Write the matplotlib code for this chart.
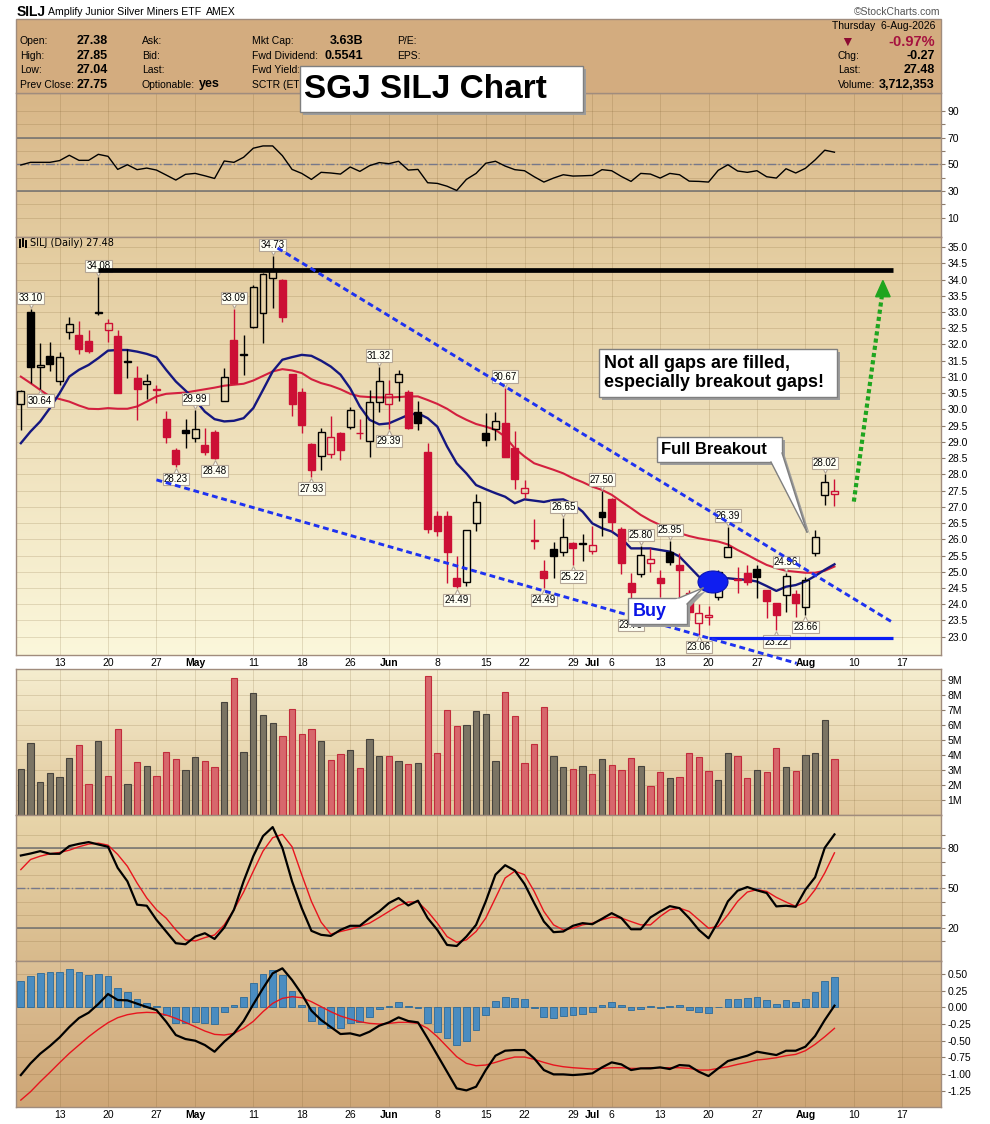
import numpy as np
import matplotlib
matplotlib.use("Agg")
import matplotlib.pyplot as plt
from matplotlib.colors import to_rgb
from matplotlib.patches import Rectangle, Ellipse, Polygon
from matplotlib.transforms import offset_copy, Bbox, TransformedBbox

# SILJ daily bars, 7-Apr-2026 .. 6-Aug-2026 (one value per trading day)
opens = [30.17, 32.99, 31.30, 31.63, 30.89, 32.38, 32.29, 32.10, 32.97, 32.45,
         32.27, 31.46, 30.96, 30.79, 30.60, 29.70, 28.75, 29.36, 29.11, 28.91,
         29.29, 30.27, 32.14, 31.69, 32.55, 32.96, 34.04, 33.99, 31.09, 30.53,
         28.94, 28.58, 28.62, 29.28, 29.45, 29.26, 29.02, 30.24, 30.16, 30.84,
         30.53, 29.93, 28.68, 26.73, 26.72, 24.80, 24.68, 26.49, 29.27, 29.40,
         29.57, 28.80, 27.42, 25.95, 25.03, 25.70, 25.60, 25.90, 25.87, 25.65,
         26.85, 27.24, 26.32, 24.64, 24.93, 25.26, 24.80, 25.62, 25.21, 24.34,
         23.41, 23.62, 24.23, 25.45, 24.76, 24.95, 25.08, 24.44, 24.03, 24.29,
         24.31, 23.90, 25.57, 27.35, 27.38]
highs = [30.60, 33.10, 32.04, 32.07, 31.76, 32.84, 32.73, 32.45, 34.08, 32.78,
         32.45, 31.86, 31.34, 31.08, 30.75, 29.96, 28.80, 29.70, 29.99, 29.42,
         29.37, 31.29, 33.09, 32.30, 33.84, 34.20, 34.73, 34.01, 31.10, 30.66,
         28.96, 29.42, 29.80, 29.30, 30.06, 29.70, 30.59, 31.32, 30.91, 31.22,
         30.59, 30.26, 28.95, 26.87, 26.87, 25.47, 26.30, 27.39, 29.90, 29.93,
         30.67, 29.32, 27.83, 26.62, 25.36, 25.92, 26.65, 25.92, 26.16, 26.41,
         27.50, 27.26, 26.39, 24.95, 25.80, 25.72, 25.06, 25.95, 25.57, 24.44,
         24.01, 23.93, 25.05, 26.39, 25.14, 25.21, 25.21, 24.45, 24.05, 24.96,
         24.44, 24.85, 26.29, 28.02, 27.85]
lows = [29.37, 30.81, 30.64, 31.17, 30.74, 32.16, 31.70, 31.73, 32.91, 32.07,
        30.50, 30.98, 29.66, 30.32, 30.19, 28.96, 28.23, 28.80, 28.99, 28.60,
        28.48, 30.27, 30.79, 31.07, 32.52, 32.06, 33.12, 32.70, 29.81, 29.26,
        27.93, 28.12, 28.49, 28.43, 29.40, 29.09, 28.54, 29.92, 29.39, 30.26,
        29.39, 29.37, 26.18, 26.11, 24.64, 24.49, 24.55, 26.27, 28.86, 29.06,
        28.53, 27.55, 27.26, 25.70, 24.49, 24.82, 25.47, 25.22, 25.34, 25.54,
        26.11, 26.26, 24.92, 23.73, 24.85, 24.98, 24.23, 25.21, 24.23, 23.51,
        23.06, 23.36, 24.13, 25.45, 24.34, 24.59, 24.18, 23.57, 23.22, 23.77,
        23.62, 23.66, 25.50, 27.05, 27.04]
closes = [30.56, 31.32, 31.37, 31.40, 31.61, 32.63, 31.86, 31.81, 32.99, 32.65,
          30.50, 31.48, 30.62, 30.86, 30.61, 29.14, 28.31, 29.27, 29.39, 28.70,
          28.50, 30.99, 30.81, 31.70, 33.77, 34.17, 34.28, 32.84, 30.16, 29.53,
          28.12, 29.30, 29.14, 28.76, 29.99, 29.27, 30.24, 30.86, 30.47, 31.08,
          29.42, 29.58, 26.31, 26.26, 25.62, 24.55, 26.29, 27.14, 29.06, 29.65,
          28.53, 27.86, 27.57, 25.96, 24.80, 25.50, 26.06, 25.72, 25.88, 25.83,
          26.68, 26.54, 25.26, 24.39, 25.52, 25.38, 24.64, 25.29, 25.06, 23.75,
          23.72, 23.67, 25.00, 25.77, 24.77, 24.67, 24.85, 24.11, 23.67, 24.88,
          24.03, 24.75, 26.06, 27.75, 27.48]
volume_m = [3.06, 4.79, 2.19, 2.79, 2.53, 3.79, 4.65, 2.06, 4.92, 2.59,
            5.72, 2.06, 3.52, 3.26, 2.59, 4.19, 3.72, 2.99, 3.86, 3.59,
            3.19, 7.51, 9.11, 4.19, 8.11, 6.65, 6.12, 5.25, 7.05, 5.38,
            5.72, 4.92, 3.66, 4.06, 4.32, 3.12, 5.05, 3.92, 3.92, 3.59,
            3.39, 3.45, 9.24, 4.12, 6.98, 5.92, 5.98, 6.91, 6.71, 3.59,
            8.18, 6.58, 3.45, 4.72, 7.18, 3.92, 3.19, 3.06, 3.26, 2.73,
            3.72, 3.32, 2.99, 3.79, 3.26, 1.93, 2.86, 2.46, 2.53, 4.12,
            3.86, 2.93, 2.33, 4.12, 3.92, 2.46, 2.99, 2.86, 4.45, 3.19,
            2.93, 3.99, 4.12, 6.32, 3.71]
ma_fast = [28.96, 29.32, 29.63, 30.04, 30.50, 31.01, 31.22, 31.37, 31.58, 31.81,
           31.83, 31.83, 31.78, 31.71, 31.61, 31.22, 30.86, 30.58, 30.29, 29.93,
           29.70, 29.63, 29.65, 29.73, 30.04, 30.60, 31.17, 31.53, 31.61, 31.68,
           31.65, 31.50, 31.32, 31.07, 30.65, 30.09, 29.68, 29.54, 29.57, 29.70,
           29.83, 29.88, 29.73, 29.47, 28.86, 28.34, 28.03, 27.67, 27.54, 27.42,
           27.31, 27.11, 27.23, 27.19, 27.15, 27.21, 27.23, 27.09, 26.85, 26.49,
           26.34, 26.24, 26.03, 25.72, 25.72, 25.72, 25.67, 25.62, 25.47, 25.16,
           24.85, 24.73, 24.75, 24.80, 24.77, 24.75, 24.70, 24.56, 24.41, 24.54,
           24.59, 24.70, 24.87, 25.06, 25.23]
ma_slow = [31.01, 30.81, 30.60, 30.40, 30.32, 30.24, 30.12, 30.02, 30.01, 30.04,
           30.02, 30.02, 30.09, 30.24, 30.40, 30.48, 30.50, 30.52, 30.57, 30.62,
           30.67, 30.73, 30.76, 30.79, 30.89, 31.03, 31.17, 31.24, 31.20, 31.12,
           30.93, 30.81, 30.73, 30.62, 30.48, 30.40, 30.38, 30.37, 30.37, 30.38,
           30.40, 30.40, 30.29, 30.17, 30.02, 29.83, 29.68, 29.55, 29.47, 29.37,
           29.16, 28.80, 28.55, 28.34, 28.24, 28.14, 28.03, 27.88, 27.76, 27.62,
           27.52, 27.37, 27.16, 26.96, 26.75, 26.58, 26.44, 26.29, 26.19, 26.10,
           26.03, 25.98, 25.93, 25.84, 25.67, 25.52, 25.36, 25.21, 25.11, 25.03,
           25.00, 24.97, 24.97, 25.03, 25.16]
rsi = [49.5, 51.5, 51.5, 51.5, 52.8, 56.8, 53.0, 53.0, 57.5, 56.0,
       46.2, 49.7, 46.0, 47.2, 45.7, 42.0, 38.2, 42.5, 43.2, 41.4,
       39.4, 52.5, 51.5, 55.3, 62.1, 63.8, 63.8, 56.5, 46.2, 43.2,
       38.7, 44.0, 43.5, 42.7, 48.0, 44.7, 49.0, 51.3, 50.5, 52.3,
       45.7, 46.2, 36.2, 35.7, 33.6, 30.4, 38.7, 43.2, 50.8, 52.3,
       48.7, 46.0, 45.2, 40.7, 36.7, 39.7, 42.2, 41.2, 41.4, 41.7,
       46.0, 45.2, 40.9, 37.2, 43.2, 42.7, 39.7, 43.2, 42.2, 37.4,
       37.2, 36.7, 45.5, 49.7, 45.0, 44.0, 45.2, 40.7, 39.7, 46.7,
       43.5, 47.0, 53.3, 60.6, 59.1]
stoch_k = [74.7, 76.2, 78.0, 76.0, 76.0, 81.8, 83.5, 84.8, 83.0, 81.3,
           65.4, 55.3, 37.7, 36.9, 26.3, 17.5, 8.7, 7.9, 13.7, 16.2,
           11.9, 20.5, 33.9, 55.3, 74.2, 89.3, 96.1, 80.5, 55.3, 35.1,
           18.0, 15.0, 14.2, 18.7, 21.8, 21.8, 27.6, 32.6, 38.9, 42.7,
           37.1, 40.7, 27.6, 18.7, 7.4, 6.6, 13.7, 22.5, 40.2, 60.3,
           67.4, 63.4, 53.3, 38.9, 25.0, 17.0, 17.5, 21.8, 23.8, 23.0,
           27.1, 31.3, 27.6, 19.2, 19.2, 28.1, 32.6, 36.6, 35.1, 27.6,
           18.7, 12.4, 25.0, 40.2, 48.2, 51.0, 48.5, 46.5, 36.4, 36.9,
           36.1, 49.0, 58.3, 80.5, 90.6]
stoch_d = [64.1, 71.7, 74.2, 76.0, 77.0, 78.7, 81.3, 83.3, 84.0, 82.5,
           75.5, 66.6, 54.0, 42.7, 33.9, 27.6, 18.7, 11.2, 10.4, 12.9,
           14.9, 22.5, 33.9, 47.2, 62.9, 78.0, 88.1, 90.6, 81.3, 60.3,
           40.2, 24.5, 15.5, 17.5, 19.2, 21.3, 23.8, 28.1, 32.6, 37.1,
           39.7, 39.7, 32.6, 23.8, 13.7, 9.4, 11.2, 17.5, 27.6, 42.7,
           57.8, 62.9, 60.3, 47.7, 32.6, 22.5, 18.7, 20.0, 22.5, 23.8,
           26.3, 28.3, 27.6, 25.0, 22.5, 22.5, 28.8, 33.9, 35.1, 32.6,
           26.3, 20.0, 21.3, 30.1, 40.2, 47.2, 49.0, 47.7, 43.2, 39.7,
           36.4, 39.7, 49.0, 61.6, 76.7]
macd_line = [-1.015, -0.84, -0.695, -0.58, -0.45, -0.295, -0.16, -0.08, 0.05, 0.20,
             0.11, 0.105, 0.055, 0.005, -0.04, -0.215, -0.415, -0.475, -0.50, -0.565,
             -0.665, -0.515, -0.39, -0.205, 0.045, 0.285, 0.51, 0.585, 0.41, 0.20,
             -0.05, -0.19, -0.295, -0.40, -0.39, -0.425, -0.365, -0.275, -0.225, -0.15,
             -0.205, -0.225, -0.465, -0.715, -0.965, -1.215, -1.245, -1.19, -0.94, -0.725,
             -0.65, -0.64, -0.64, -0.765, -0.94, -1.005, -1.005, -1.015, -1.005, -0.99,
             -0.90, -0.825, -0.855, -0.94, -0.915, -0.915, -0.90, -0.925, -0.865, -0.875,
             -0.965, -1.03, -0.915, -0.805, -0.765, -0.725, -0.665, -0.69, -0.715, -0.65,
             -0.65, -0.59, -0.43, -0.19, 0.025]
macd_signal = [-1.39, -1.265, -1.115, -0.975, -0.83, -0.69, -0.565, -0.44, -0.33, -0.23,
               -0.155, -0.11, -0.085, -0.075, -0.08, -0.115, -0.165, -0.225, -0.29, -0.355,
               -0.405, -0.415, -0.39, -0.315, -0.21, -0.065, 0.06, 0.135, 0.16, 0.145,
               0.085, 0.01, -0.065, -0.13, -0.175, -0.215, -0.24, -0.25, -0.24, -0.225,
               -0.225, -0.24, -0.315, -0.44, -0.59, -0.74, -0.84, -0.875, -0.865, -0.825,
               -0.78, -0.745, -0.745, -0.78, -0.825, -0.865, -0.89, -0.905, -0.915, -0.925,
               -0.915, -0.905, -0.905, -0.915, -0.915, -0.905, -0.905, -0.905, -0.905, -0.915,
               -0.94, -0.94, -0.915, -0.89, -0.855, -0.825, -0.79, -0.775, -0.755, -0.725,
               -0.705, -0.65, -0.555, -0.44, -0.315]
macd_hist = [0.395, 0.47, 0.51, 0.53, 0.53, 0.575, 0.53, 0.485, 0.495, 0.465,
             0.285, 0.225, 0.125, 0.06, 0.02, -0.115, -0.24, -0.24, -0.225, -0.23,
             -0.255, -0.075, 0.035, 0.15, 0.36, 0.495, 0.56, 0.485, 0.245, 0.035,
             -0.20, -0.255, -0.305, -0.315, -0.24, -0.215, -0.14, -0.03, 0.02, 0.075,
             0.02, -0.015, -0.24, -0.375, -0.455, -0.565, -0.50, -0.34, -0.115, 0.095,
             0.155, 0.145, 0.125, -0.005, -0.14, -0.165, -0.135, -0.115, -0.095, -0.065,
             0.035, 0.075, 0.03, -0.045, -0.025, 0.02, -0.015, 0.02, 0.03, -0.045,
             -0.07, -0.09, 0.005, 0.13, 0.13, 0.14, 0.155, 0.105, 0.05, 0.105,
             0.08, 0.13, 0.23, 0.395, 0.455]

# date axis (trading-day index of each labelled day)
tick_days = [4, 9, 14, 18, 24, 29, 34, 38, 43, 48, 52, 57, 59, 61, 66, 71, 76, 81, 86, 91]
tick_labels = ["13", "20", "27", "May", "11", "18", "26", "Jun", "8", "15",
               "22", "29", "Jul", "6", "13", "20", "27", "Aug", "10", "17"]
month_names = ("May", "Jun", "Jul", "Aug")

# candles whose high / low carry a value tag
tagged_highs = [1, 8, 18, 22, 26, 37, 50, 56, 60, 64, 67, 73, 79, 83]
tagged_lows = [2, 16, 20, 30, 38, 45, 54, 57, 63, 70, 78, 81]

# hand drawn lines (day index, price)
resistance = ([8, 90], [34.28, 34.28])
support = ([71, 90], [22.95, 22.95])
upper_channel = ([26.5, 89.9], [34.97, 23.46])
lower_channel = ([14.0, 80.1], [27.83, 22.18])
target_arrow = ([86.0, 88.9], [27.16, 33.50])
arrow_tip = (89.0, 33.97)

W, H = 990, 1124
LEFT, RIGHT = 16, 941
RED = "#CC0F35"
BORDER = "#A08C7D"

plt.rcParams["font.family"] = ["Liberation Sans", "DejaVu Sans"]
fig = plt.figure(figsize=(W / 100, H / 100), dpi=100)
idx = np.arange(len(closes))


def panel(top, bottom, c_top, c_bot):
    ax = fig.add_axes([LEFT / W, 1 - bottom / H, (RIGHT - LEFT) / W, (bottom - top) / H])
    t = np.linspace(0, 1, 200)[:, None, None]
    img = (1 - t) * np.array(to_rgb(c_top)) + t * np.array(to_rgb(c_bot))
    ax.imshow(img, extent=[0, 1, 0, 1], transform=ax.transAxes, aspect="auto",
              zorder=0, interpolation="bilinear")
    for s in ax.spines.values():
        s.set_color(BORDER)
        s.set_linewidth(1)
    ax.set_xlim(-0.5, 95)
    ax.set_xticks(tick_days)
    ax.set_xticklabels([])
    ax.tick_params(axis="x", length=0)
    ax.yaxis.tick_right()
    ax.tick_params(axis="y", length=3, width=0.8, color="#8C7B6B", labelsize=7.5, pad=1.5)
    ax.grid(True, color="#6B4E1E", alpha=0.17, lw=0.7)
    ax.set_axisbelow(True)
    return ax


def date_labels(ax):
    ax.set_xticklabels(tick_labels, fontsize=7.5)
    ax.tick_params(axis="x", pad=2.5)
    for lab in ax.get_xticklabels():
        if lab.get_text() in month_names:
            lab.set_fontweight("bold")


# ---------- RSI ----------
rsi_ax = panel(93, 237, "#D8B687", "#E3CB9F")
rsi_ax.plot(idx, rsi, color="black", lw=1, zorder=3)
for lvl in (70, 30):
    rsi_ax.axhline(lvl, color="#707070", lw=1.1, zorder=2)
rsi_ax.axhline(50, color="#76788A", lw=1, ls="-.", zorder=2)
rsi_ax.set_yticks(range(10, 100, 10))
rsi_ax.set_yticklabels([str(v) if v % 20 == 10 else "" for v in range(10, 100, 10)])
rsi_ax.set_ylim(-4.5, 103.5)

# ---------- price ----------
pax = panel(237, 655, "#E3CB9E", "#FBF7DB")
closes_a = np.array(closes)
opens_a = np.array(opens)
prev = np.concatenate([[closes_a[0]], closes_a[:-1]])
up = closes_a >= prev
cols = np.where(up, "black", RED)
faces = [c if f else "none" for c, f in zip(cols, closes_a < opens_a)]
body_lo = np.minimum(opens_a, closes_a)
body_hi = np.maximum(opens_a, closes_a)

pax.plot(idx, ma_slow, color="#D3203F", lw=1.5, zorder=2)
pax.plot(idx, ma_fast, color="#15177F", lw=1.7, zorder=2)
pax.vlines(idx, body_hi, highs, colors=cols, lw=1, zorder=3)
pax.vlines(idx, lows, body_lo, colors=cols, lw=1, zorder=3)
pax.bar(idx, np.maximum(body_hi - body_lo, 0.025), width=0.72, bottom=body_lo,
        color=faces, edgecolor=cols, linewidth=1, zorder=4)

tag_box = dict(boxstyle="square,pad=0.12", fc="#FFFFF4", ec="#B4A696", lw=0.8)
for i in tagged_highs:
    pax.plot(i, highs[i], marker="v", ms=5, mfc="#FFFFF4", mec="#B4A696", mew=0.8, zorder=5,
             transform=offset_copy(pax.transData, fig=fig, x=0, y=4, units="dots"))
    pax.annotate(f"{highs[i]:.2f}", xy=(i, highs[i]), xytext=(0, 11), textcoords="offset pixels",
                 ha="center", va="center", fontsize=7, bbox=tag_box, zorder=5)
for i in tagged_lows:
    pax.plot(i, lows[i], marker="^", ms=5, mfc="#FFFFF4", mec="#B4A696", mew=0.8, zorder=5,
             transform=offset_copy(pax.transData, fig=fig, x=0, y=-4, units="dots"))
    pax.annotate(f"{lows[i]:.2f}", xy=(i, lows[i]), xytext=(0, -12), textcoords="offset pixels",
                 ha="center", va="center", fontsize=7, bbox=tag_box, zorder=5)

pax.plot(*resistance, color="black", lw=3.4, solid_capstyle="butt", zorder=6)
pax.plot(*support, color="#0A1EF5", lw=2.3, solid_capstyle="butt", zorder=6)
pax.plot(*upper_channel, color="#1E32F0", lw=2.1, ls=(0, (2, 1.3)), zorder=6)
pax.plot(*lower_channel, color="#1E32F0", lw=2.1, ls=(0, (2, 1.3)), zorder=6, clip_on=False)
pax.plot(*target_arrow, color="#1FA51F", lw=3, ls=(0, (1, 0.75)), solid_capstyle="butt", zorder=6)
tx, ty = arrow_tip
pax.add_patch(Polygon([(tx, ty), (tx - 0.75, ty - 0.5), (tx + 0.75, ty - 0.5)],
                      closed=True, fc="#1FA51F", ec="#1FA51F", zorder=6))

pax.set_yticks(np.arange(23.0, 35.01, 0.5))
pax.set_yticklabels([f"{v:.1f}" for v in np.arange(23.0, 35.01, 0.5)])
pax.set_ylim(22.436, 35.31)
date_labels(pax)

# ---------- volume ----------
vax = panel(669, 815, "#F5EDCF", "#E1C89C")
vax.bar(idx, volume_m, width=0.65,
        color=np.where(up, "#7B7464", "#D7676C"),
        edgecolor=np.where(up, "#47433D", "#C22C3C"), linewidth=0.8, zorder=3)
vax.set_yticks(range(1, 10))
vax.set_yticklabels([f"{v}M" for v in range(1, 10)])
vax.set_ylim(0, 9.72)

# ---------- slow stochastic ----------
sax = panel(815, 961, "#E8D5AA", "#D8BA8C")
for lvl in (80, 20):
    sax.axhline(lvl, color="#707070", lw=1.1, zorder=2)
sax.axhline(50, color="#76788A", lw=1, ls="-.", zorder=2)
sax.plot(idx, stoch_d, color="#E8141E", lw=1, zorder=3)
sax.plot(idx, stoch_k, color="black", lw=1.6, zorder=4)
sax.set_yticks(range(10, 100, 10))
sax.set_yticklabels([str(v) if v in (20, 50, 80) else "" for v in range(10, 100, 10)])
sax.set_ylim(-4.7, 105.2)

# ---------- MACD ----------
max_ = panel(961, 1107, "#DCC096", "#CEA676")
max_.bar(idx, macd_hist, width=0.7, color="#4A8CC0", edgecolor="#2C6A98", linewidth=0.6, zorder=2)
max_.plot(idx, macd_signal, color="#E8141E", lw=1, zorder=3)
max_.plot(idx, macd_line, color="black", lw=1.6, zorder=4)
mt = np.arange(-1.25, 0.51, 0.25)
max_.set_yticks(mt)
max_.set_yticklabels([f"{v:.2f}" for v in mt])
max_.set_ylim(-1.494, 0.695)
date_labels(max_)

# ---------- header, notes and call-outs (pixel overlay) ----------
ov = fig.add_axes([0, 0, 1, 1], zorder=10)
ov.set_xlim(0, W)
ov.set_ylim(H, 0)
ov.axis("off")
ov.patch.set_alpha(0)

ov.add_patch(Rectangle((LEFT, 19), RIGHT - LEFT, 74, fc="#D3AC7F", ec=BORDER, lw=1, zorder=0))
ov.text(17, 12, "SILJ", fontsize=10, fontweight="bold", va="center")
ov.text(48, 12, "Amplify Junior Silver Miners ETF", fontsize=7.6, va="center")
ov.text(206, 12, "AMEX", fontsize=7.6, va="center")
ov.text(940, 12, "\u00a9StockCharts.com", fontsize=7.5, color="#555555", ha="right", va="center")

rows = [41.5, 56, 70, 84.5]
col1 = [("Open:", f"{opens[-1]:.2f}"), ("High:", f"{highs[-1]:.2f}"),
        ("Low:", f"{lows[-1]:.2f}"), ("Prev Close:", f"{closes[-2]:.2f}")]
for y, (lab, val) in zip(rows, col1):
    ov.text(20, y, lab, fontsize=7.5, va="center")
    ov.text(108, y, val, fontsize=9, fontweight="bold", ha="right", va="center")
for y, lab in zip(rows, ["Ask:", "Bid:", "Last:", "Optionable:"]):
    ov.text(142, y, lab, fontsize=7.5, va="center")
ov.text(199, rows[3], "yes", fontsize=9, fontweight="bold", va="center")

# the title box hides the right part of these two rows
hide = TransformedBbox(Bbox([[0, 0], [299, H]]), ov.transData)
col3 = [("Mkt Cap:", "3.63B"), ("Fwd Dividend:", "0.5541")]
for y, (lab, val) in zip(rows, col3):
    ov.text(252, y, lab, fontsize=7.5, va="center")
    ov.text(363, y, val, fontsize=9, fontweight="bold", ha="right", va="center")
for y, lab in zip(rows[2:], ["Fwd Yield:", "SCTR (ETF):"]):
    t = ov.text(252, y, lab, fontsize=7.5, va="center")
    t.set_clip_box(hide)
    t.set_clip_on(True)
for y, lab in zip(rows, ["P/E:", "EPS:"]):
    ov.text(397, y, lab, fontsize=7.5, va="center")

chg = closes[-1] - closes[-2]
ov.text(935, 26, "Thursday  6-Aug-2026", fontsize=7.5, ha="right", va="center")
ov.text(847, 41.5, "\u25bc", fontsize=10, color="#8C0A32", ha="center", va="center")
ov.text(935, 41.5, f"{chg / closes[-2] * 100:.2f}%", fontsize=10.5, fontweight="bold",
        color="#A5123F", ha="right", va="center")
right_rows = [("Chg:", f"{chg:.2f}"), ("Last:", f"{closes[-1]:.2f}"), ("Volume:", "3,712,353")]
for y, (lab, val) in zip(rows[1:], right_rows):
    ov.text(838, y, lab, fontsize=7.5, va="center")
    ov.text(935, y, val, fontsize=9, fontweight="bold", ha="right", va="center")

# price legend
for xx, y0, y1 in [(20, 240, 247), (23, 239, 246), (26, 241, 247)]:
    ov.plot([xx, xx], [y0, y1], color="black", lw=1.4)
ov.text(30, 243.5, f"SILJ (Daily) {closes[-1]:.2f}", fontsize=7, va="center", family="DejaVu Sans")


def callout(x0, y0, x1, y1, tail=None):
    grey = "#7F7F7F"
    ov.add_patch(Rectangle((x0 + 3, y0 + 3), x1 - x0, y1 - y0, fc="#9C9C9C", ec="none", zorder=1))
    if tail:
        ov.add_patch(Polygon([(p[0] + 3, p[1] + 3) for p in tail], closed=True,
                             fc="#9C9C9C", ec="none", zorder=1))
    ov.add_patch(Rectangle((x0, y0), x1 - x0, y1 - y0, fc="white", ec=grey, lw=1, zorder=2))
    if tail:
        b1, b2, tip = tail
        e1 = (b1[0] + 0.15 * (b1[0] - tip[0]), b1[1] + 0.15 * (b1[1] - tip[1]))
        e2 = (b2[0] + 0.15 * (b2[0] - tip[0]), b2[1] + 0.15 * (b2[1] - tip[1]))
        ov.add_patch(Polygon([e1, e2, tip], closed=True, fc="white", ec="none", zorder=3))
        for b in (b1, b2):
            ov.plot([b[0], tip[0]], [b[1], tip[1]], color=grey, lw=1, zorder=4)


callout(300, 66, 583, 112)
ov.text(304, 90, "SGJ SILJ Chart", fontsize=24, fontweight="bold", va="center", zorder=5)

callout(599, 349, 837, 397)
ov.text(604, 373, "Not all gaps are filled,\nespecially breakout gaps!", fontsize=13,
        fontweight="bold", va="center", linespacing=1.15, zorder=5)

callout(657, 437, 782, 462, tail=[(771, 462), (782, 453), (807, 532)])
ov.text(661, 449.5, "Full Breakout", fontsize=12, fontweight="bold", va="center", zorder=5)

ov.add_patch(Ellipse((713, 582), 30, 22, fc="#0F1EF0", ec="#0A14B4", lw=0.8, zorder=1))
callout(628, 598, 687, 624, tail=[(679, 598), (687, 604), (703, 588)])
ov.text(633, 611.5, "Buy", fontsize=13, fontweight="bold", color="#0A14E6", va="center", zorder=5)

fig.savefig("out.png", dpi=100)
